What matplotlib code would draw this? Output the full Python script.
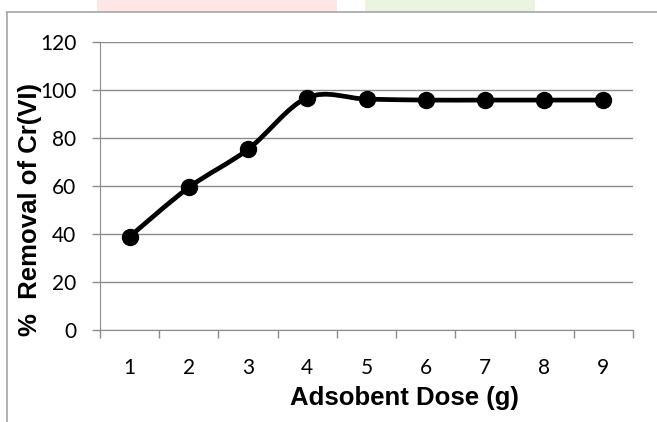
import matplotlib
matplotlib.use("Agg")
import matplotlib.pyplot as plt
from matplotlib.path import Path
from matplotlib.patches import PathPatch, Rectangle
from matplotlib.lines import Line2D

dose = [1, 2, 3, 4, 5, 6, 7, 8, 9]
removal = [38.9, 59.4, 75.3, 96.8, 96.2, 95.8, 95.8, 95.8, 95.8]
yticks = [0, 20, 40, 60, 80, 100, 120]
xlabel = "Adsobent Dose (g)"
ylabel = "%  Removal of Cr(VI)"

W, H = 657, 422
fig = plt.figure(figsize=(W / 100, H / 100), dpi=100)

# faint watermark remnants at the top
fig.patches.append(Rectangle((97 / W, 1 - 12 / H), 240 / W, 12 / H, transform=fig.transFigure,
                             facecolor="#fde6e6", edgecolor="none", zorder=0))
fig.patches.append(Rectangle((365 / W, 1 - 12 / H), 170 / W, 12 / H, transform=fig.transFigure,
                             facecolor="#eaf4e0", edgecolor="none", zorder=0))
# chart border
fig.add_artist(Line2D([7 / W, 7 / W], [0, 1 - 12 / H], transform=fig.transFigure, color="#a6a6a6", lw=1.2))
fig.add_artist(Line2D([7 / W, 1], [1 - 12 / H, 1 - 12 / H], transform=fig.transFigure, color="#a6a6a6", lw=1.2))

ax = fig.add_axes([100 / W, 1 - 330 / H, 533 / W, 288 / H])
ax.set_xlim(0.5, 9.5)
ax.set_ylim(0, 120)

# smoothed line (Catmull-Rom style Bezier, as spreadsheet "smoothed line")
n = len(dose)
verts = [(dose[0], removal[0])]
codes = [Path.MOVETO]
for i in range(n - 1):
    p0 = (dose[max(i - 1, 0)], removal[max(i - 1, 0)])
    p1 = (dose[i], removal[i])
    p2 = (dose[i + 1], removal[i + 1])
    p3 = (dose[min(i + 2, n - 1)], removal[min(i + 2, n - 1)])
    c1 = (p1[0] + (p2[0] - p0[0]) / 6, p1[1] + (p2[1] - p0[1]) / 6)
    c2 = (p2[0] - (p3[0] - p1[0]) / 6, p2[1] - (p3[1] - p1[1]) / 6)
    verts += [c1, c2, p2]
    codes += [Path.CURVE4] * 3
ax.add_patch(PathPatch(Path(verts, codes), facecolor="none", edgecolor="black", lw=3.4,
                       capstyle="round", joinstyle="round", zorder=3))
ax.plot(dose, removal, linestyle="none", marker="o", markersize=11.5, color="black", zorder=4)

ax.set_yticks(yticks)
ax.set_yticklabels([str(v) for v in yticks], fontsize=15, family="Lato")
ax.yaxis.grid(True, color="#8c8c8c", lw=1)
ax.set_axisbelow(True)

ax.set_xticks([x + 0.5 for x in [0] + dose])
ax.set_xticklabels([])
ax.set_xticks(dose, minor=True)
ax.set_xticklabels([str(d) for d in dose], minor=True, fontsize=15, family="Lato")
ax.tick_params(axis="x", which="major", length=6, color="#8c8c8c", width=1)
ax.tick_params(axis="x", which="minor", length=0, pad=20)
ax.tick_params(axis="y", length=6, color="#8c8c8c", width=1, pad=11)

for s in ["top", "right"]:
    ax.spines[s].set_visible(False)
ax.spines["left"].set_color("#8c8c8c")
ax.spines["bottom"].set_color("#8c8c8c")

ax.set_xlabel(xlabel, fontsize=18.5, fontweight="bold", family="Liberation Sans")
ax.xaxis.set_label_coords(0.572, -0.195)
ax.set_ylabel(ylabel, fontsize=18.5, fontweight="bold", family="Liberation Sans")
ax.yaxis.set_label_coords(-0.108, 0.417)

fig.savefig("out.png", dpi=100)
